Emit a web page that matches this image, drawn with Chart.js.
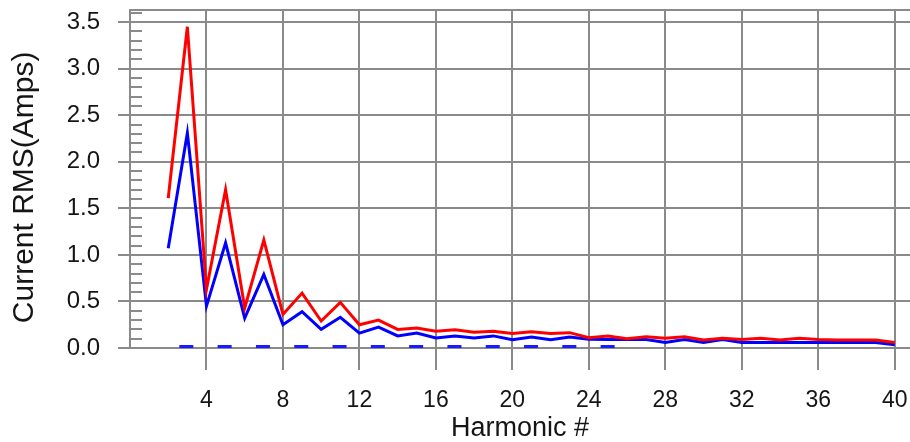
<!DOCTYPE html>
<html><head><meta charset="utf-8">
<script src="https://cdn.jsdelivr.net/npm/chart.js@4.4.0/dist/chart.umd.min.js"></script>
<style>html,body{margin:0;padding:0;background:#fff;overflow:hidden}canvas{display:block}</style>
</head><body>
<canvas id="c" width="910" height="442"></canvas>
<script>
// ---- data ----
const harmonics = [2,3,4,5,6,7,8,9,10,11,12,13,14,15,16,17,18,19,20,21,22,23,24,25,26,27,28,29,30,31,32,33,34,35,36,37,38,39,40];
const redCurrent = [1.61,3.45,0.63,1.70,0.43,1.16,0.36,0.59,0.29,0.49,0.25,0.30,0.20,0.215,0.18,0.195,0.17,0.18,0.155,0.175,0.155,0.165,0.11,0.13,0.10,0.12,0.105,0.12,0.085,0.105,0.09,0.105,0.085,0.105,0.09,0.085,0.085,0.085,0.06];
const blueCurrent = [1.07,2.31,0.45,1.13,0.32,0.79,0.25,0.39,0.20,0.33,0.16,0.225,0.13,0.16,0.107,0.13,0.107,0.13,0.09,0.117,0.09,0.117,0.095,0.09,0.09,0.09,0.06,0.09,0.06,0.09,0.06,0.06,0.06,0.06,0.06,0.06,0.06,0.06,0.035];
const dashHarmonics = [2,3,4,5,6,7,8,9,10,11,12,13,14,15,16,17,18,19,20,21,22,23,24,25,26];
const dashCurrent = [0.015,0.015,0.015,0.015,0.015,0.015,0.015,0.015,0.015,0.015,0.015,0.015,0.015,0.015,0.015,0.015,0.015,0.015,0.015,0.015,0.015,0.015,0.015,0.015,0.015];
const xTickValues = [4,8,12,16,20,24,28,32,36,40];
const yTickValues = [0,0.5,1.0,1.5,2.0,2.5,3.0,3.5];
const yMinorStep = 0.1;

const GRID = '#8a8a8a';
const TEXT = '#151515';
const toXY = (xs, ys) => xs.map((x, i) => ({x: x, y: ys[i]}));
const noPad = s => { s.paddingTop = 0; s.paddingBottom = 0; s.paddingLeft = 0; s.paddingRight = 0; };

const minorTicks = {
  id: 'minorTicks',
  beforeDatasetsDraw(chart) {
    const y = chart.scales.y, ctx = chart.ctx, left = chart.chartArea.left;
    ctx.save();
    ctx.strokeStyle = GRID;
    ctx.lineWidth = 2;
    const n = Math.floor(y.max / yMinorStep + 1e-6);
    for (let i = 1; i <= n; i++) {
      const py = Math.round(y.getPixelForValue(i * yMinorStep));
      ctx.beginPath();
      ctx.moveTo(left, py);
      ctx.lineTo(left + 12, py);
      ctx.stroke();
    }
    ctx.restore();
  }
};

new Chart(document.getElementById('c'), {
  type: 'line',
  data: {
    datasets: [
      {data: toXY(harmonics, redCurrent), borderColor: '#ff0000', borderWidth: 3, pointRadius: 0, tension: 0, fill: false, order: 0},
      {data: toXY(harmonics, blueCurrent), borderColor: '#0000ff', borderWidth: 3, pointRadius: 0, tension: 0, fill: false, order: 1},
      {data: toXY(dashHarmonics, dashCurrent), borderColor: '#1a1aff', borderWidth: 3, borderDash: [14, 24.3], borderDashOffset: 27.2, pointRadius: 0, tension: 0, fill: false, order: 2}
    ]
  },
  options: {
    responsive: false,
    animation: false,
    devicePixelRatio: 1,
    layout: {padding: 0},
    plugins: {legend: {display: false}, tooltip: {enabled: false}},
    scales: {
      x: {
        type: 'linear', position: 'bottom', min: 0, max: 40.8,
        afterBuildTicks: s => { s.ticks = xTickValues.map(v => ({value: v})); },
        afterFit: s => { s.height = 94; noPad(s); },
        grid: {color: GRID, lineWidth: 2, tickLength: 22},
        border: {color: GRID, width: 2},
        ticks: {font: {family: 'Liberation Sans', size: 23}, color: TEXT, padding: 17, maxRotation: 0, autoSkip: false},
        title: {display: true, text: 'Harmonic #', font: {family: 'Liberation Sans', size: 27}, color: TEXT, padding: {top: 0, bottom: -3}}
      },
      xTop: {
        type: 'linear', position: 'top', min: 0, max: 40.8,
        afterFit: s => { s.height = 10; noPad(s); },
        grid: {display: false},
        border: {display: true, color: GRID, width: 2},
        ticks: {display: false}
      },
      y: {
        type: 'linear', position: 'left', min: 0, max: 3.63,
        afterBuildTicks: s => { s.ticks = yTickValues.map(v => ({value: v})); },
        afterFit: s => { s.width = 130; noPad(s); },
        grid: {color: GRID, lineWidth: 2, tickLength: 12},
        border: {color: GRID, width: 2},
        ticks: {font: {family: 'Liberation Sans', size: 24}, color: TEXT, padding: 18, callback: v => Number(v).toFixed(1)},
        title: {display: true, text: 'Current RMS(Amps)  ', font: {family: 'Liberation Sans', size: 30}, color: TEXT, padding: {top: 7, bottom: 0}}
      }
    }
  },
  plugins: [minorTicks]
});
</script>
</body></html>
